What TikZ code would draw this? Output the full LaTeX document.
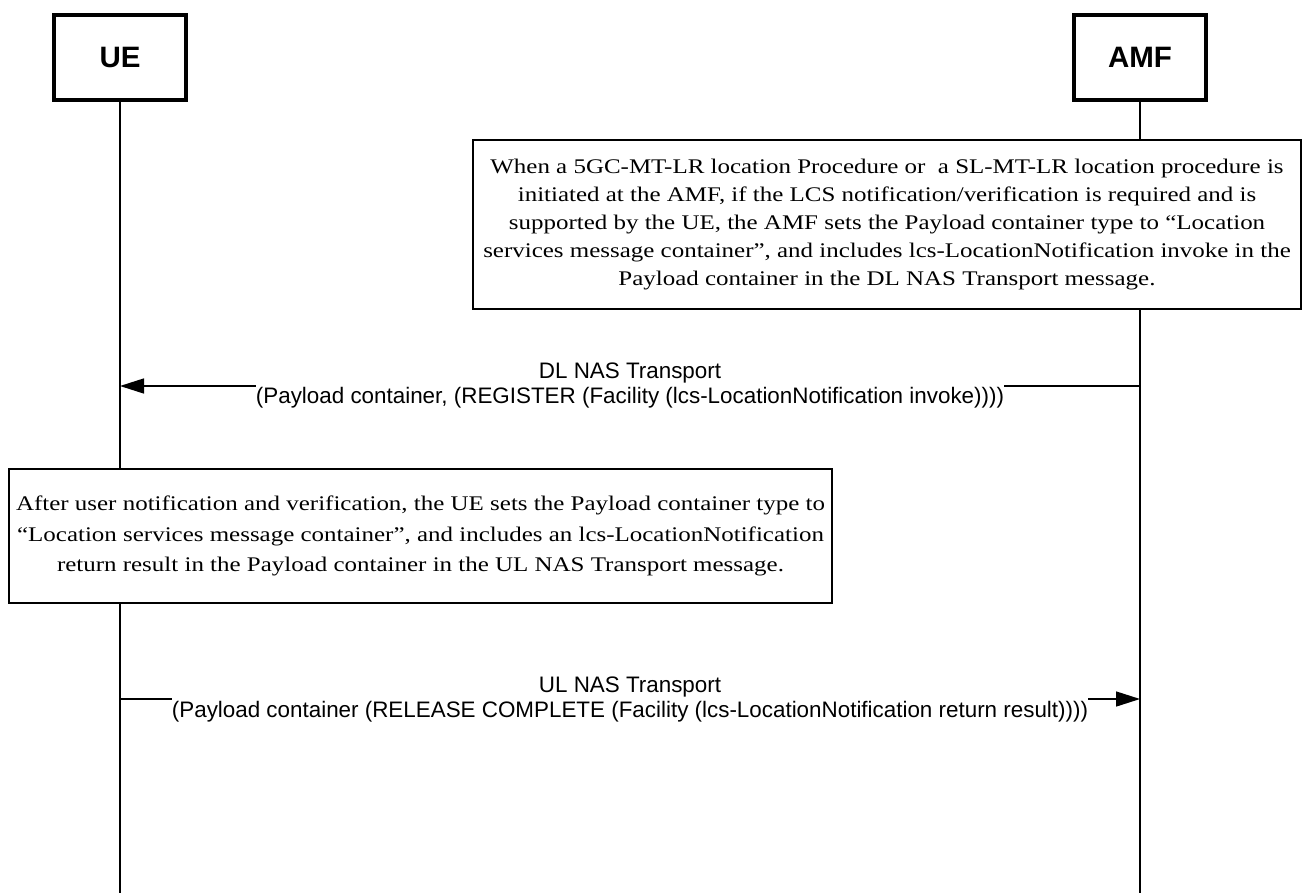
\documentclass[tikz,border=0pt]{standalone}
\usepackage{fontspec}
\setmainfont{Liberation Serif}[FakeStretch=1.2]
\setsansfont{Liberation Sans}
\usetikzlibrary{positioning}
\usetikzlibrary{arrows.meta}
\tikzset{
    entity/.style = {rectangle,draw,line width=4pt,minimum width=132pt,minimum height=85pt,font=\sffamily\bfseries\fontsize{29.5}{34}\selectfont},
    note/.style = {rectangle,draw,fill=white,line width=1.5pt,align=center,font=\fontsize{20.8}{28}\selectfont},
    msg/.style = {fill=white,inner sep=0pt,align=center,font=\sffamily\fontsize{22.4}{25}\selectfont},
    lifeline/.style = {line width=1.5pt},
    signal/.style = {line width=1.5pt,-{Triangle[length=24pt,width=15pt]}}}

\begin{document}
\begin{tikzpicture}[x=1pt,y=-1pt]
        \useasboundingbox (0,0) rectangle (1305,893);
        \node[entity] (UE) at (120,57.5) {UE};
        \node[entity] (AMF) at (1140,57.5) {AMF};
        \path (UE |- 0,893) coordinate (UEend)
              (AMF |- 0,893) coordinate (AMFend)
              (AMF |- 0,386) coordinate (dlA)
              (UE |- 0,386) coordinate (dlU)
              (UE |- 0,699) coordinate (ulU)
              (AMF |- 0,699) coordinate (ulA);
        \draw[lifeline] (UE) -- (UEend) (AMF) -- (AMFend);
        \node[note,minimum width=828pt,minimum height=169pt] (AMFnote) at (887,224.5)
            {When a 5GC-MT-LR location Procedure or\ \ a SL-MT-LR location procedure is\\
             initiated at the AMF, if the LCS notification/verification is required and is\\
             supported by the UE, the AMF sets the Payload container type to “Location\\
             services message container”, and includes lcs-LocationNotification invoke in the\\
             Payload container in the DL NAS Transport message.};
        \node[note,minimum width=823pt,minimum height=134pt,font=\fontsize{20.8}{30.5}\selectfont] (UEnote) at (420.5,536)
            {After user notification and verification, the UE sets the Payload container type to\\
             “Location services message container”, and includes an lcs-LocationNotification\\
             return result in the Payload container in the UL NAS Transport message.};
        \draw[signal] (dlA) -- node[msg] {DL NAS Transport\\(Payload container, (REGISTER (Facility (lcs-LocationNotification invoke))))} (dlU);
        \draw[signal] (ulU) -- node[msg] {UL NAS Transport\\(Payload container (RELEASE COMPLETE (Facility (lcs-LocationNotification return result))))} (ulA);
\end{tikzpicture}
\end{document}
